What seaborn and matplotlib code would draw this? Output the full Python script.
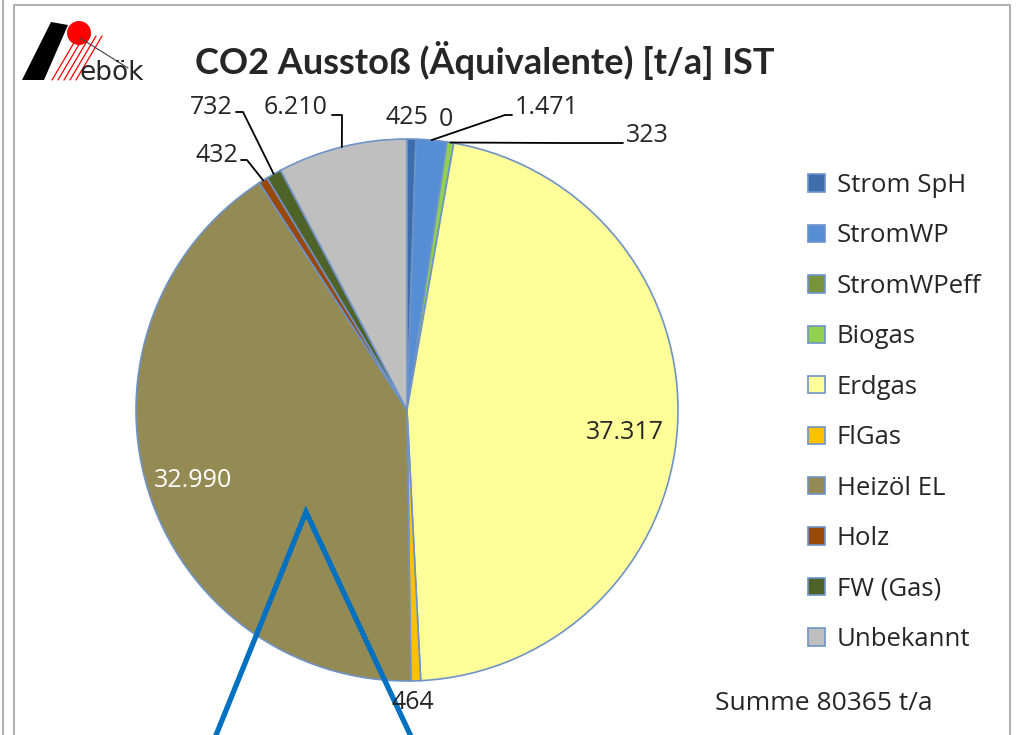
import numpy as np
import seaborn as sns
import matplotlib.pyplot as plt
from matplotlib.patches import Polygon, Circle

# data
categories = ["Strom SpH", "StromWP", "StromWPeff", "Biogas", "Erdgas",
              "FlGas", "Heizöl EL", "Holz", "FW (Gas)", "Unbekannt"]
values = [425, 1471, 0, 323, 37317, 464, 32990, 432, 732, 6210]
value_labels = ["425", "1.471", "0", "323", "37.317", "464", "32.990", "432", "732", "6.210"]
colors = ["#3E6DAD", "#558ED5", "#77933C", "#92D050", "#FFFF99",
          "#FFC000", "#948A54", "#984807", "#4F6228", "#BFBFBF"]
title = "CO2 Ausstoß (Äquivalente) [t/a] IST"
summe_text = "Summe 80365 t/a"

sns.set_theme(style="white")
plt.rcParams["font.family"] = ["Open Sans", "DejaVu Sans"]

W, H = 1017, 735
CX, CY, R = 407, 410, 271  # pie centre / radius in pixels


def P(x, y):
    # pixel -> data coords
    return (x - CX) / R, (CY - y) / R


fig = plt.figure(figsize=(W / 100, H / 100), dpi=100)
ax = fig.add_axes([0, 0, 1, 1])

wedges, _ = ax.pie(values, colors=colors, startangle=90, counterclock=False,
                   wedgeprops=dict(edgecolor="#6F93C8", linewidth=1.2))
ax.set_xlim(-CX / R, (W - CX) / R)
ax.set_ylim(-(H - CY) / R, CY / R)
ax.set_aspect("auto")
ax.axis("off")

# mid angles of each wedge
frac = np.cumsum([0] + values) / sum(values)
mid = 90 - 360 * (frac[:-1] + frac[1:]) / 2


def polar(r, ang):
    a = np.deg2rad(ang)
    return r * np.cos(a), r * np.sin(a)


fs = 18
# labels directly next to / inside the pie
ax.text(*polar(0.81, mid[4] - 2.3), value_labels[4], fontsize=fs, ha="center", va="center")
ax.text(*polar(0.83, mid[6] + 1.4), value_labels[6], fontsize=fs, ha="center", va="center", color="white")
ax.text(*polar(1.08, mid[5] - 0.7), value_labels[5], fontsize=fs, ha="center", va="center")
ax.text(*polar(1.08, mid[0] + 0.9), value_labels[0], fontsize=fs, ha="center", va="center")
ax.text(*polar(1.08, mid[2] + 0.8), value_labels[2], fontsize=fs, ha="center", va="center")

# labels with leader lines: (index, elbow px, end px, text px, ha)
leaders = [
    (1, (505, 115), (512, 115), (515, 108), "left"),
    (3, (560, 143), (623, 143), (626, 135), "left"),
    (8, (243, 112), (236, 112), (233, 108), "right"),
    (7, (247, 160), (241, 160), (238, 155), "right"),
    (9, (342, 115), (332, 115), (328, 107), "right"),
]
for i, elbow, end, tpos, ha in leaders:
    x0, y0 = polar(1.0, mid[i])
    x1, y1 = P(*elbow)
    x2, y2 = P(*end)
    ax.plot([x0, x1, x2], [y0, y1, y2], color="black", lw=1.3)
    ax.text(*P(*tpos), value_labels[i], fontsize=fs, ha=ha, va="center")

ax.text(*P(715, 703), summe_text, fontsize=19, ha="left", va="center")

# title
ax.text(*P(485, 60), title, fontsize=26, fontweight="bold", ha="center", va="center",
        family=["Lato", "DejaVu Sans"])

# legend
fig.legend(wedges, categories, loc="upper left", bbox_to_anchor=(808 / W, 1 - 173 / H),
           frameon=False, fontsize=18.5, handlelength=0.66, handleheight=0.66,
           handletextpad=0.45, labelspacing=0.99, borderaxespad=0, borderpad=0)

# logo
ax.add_patch(Polygon([P(22, 80), P(51, 22), P(68, 25), P(44, 80)], closed=True,
                     facecolor="black", edgecolor="none"))
ax.add_patch(Circle(P(79, 33), 12 / R, facecolor="red", edgecolor="none"))
for k in range(5):
    xs = 58 + k * 6
    ax.plot(*zip(P(xs + 20, 36), P(xs - 6, 80)), color="red", lw=0.9)
ax.plot(*zip(P(80, 38), P(128, 68)), color="#404040", lw=0.8)
ax.text(*P(112, 73), "ebök", fontsize=19, ha="center", va="center", family=["DejaVu Sans"])

# frame
ax.plot(*zip(P(14, 740), P(14, 5), P(1010, 5), P(1010, 740)), color="#B0B0B0", lw=1.5)
ax.plot(*zip(P(3, 0), P(3, 740)), color="#B0B0B0", lw=1.5)

# blue annotation lines
ax.plot(*zip(P(206, 760), P(306, 512), P(422, 760)), color="#0070C0", lw=3.8,
        solid_joinstyle="miter")

fig.savefig("out.png", dpi=100)
